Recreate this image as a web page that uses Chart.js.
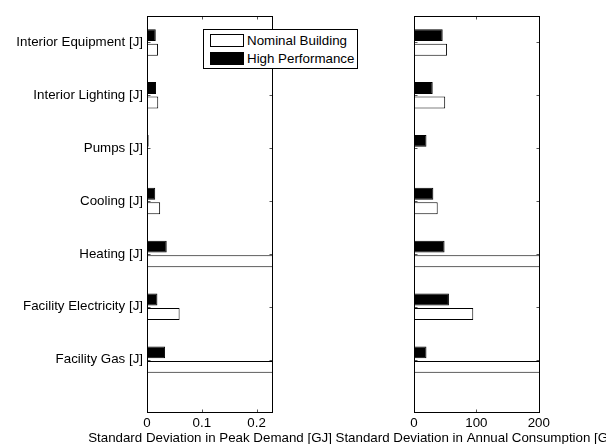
<!DOCTYPE html>
<html>
<head>
<meta charset="utf-8">
<script src="https://cdn.jsdelivr.net/npm/chart.js@4"></script>
<style>
  html, body { margin: 0; padding: 0; background: #fff; overflow: hidden; width: 606px; height: 444px; }
  canvas { position: absolute; left: 0; top: 0; }
  #legend { position: absolute; left: 203px; top: 29px; width: 155px; height: 40px; box-sizing: border-box;
            border: 1px solid #000; background: #fff; font: 13.33px "Liberation Sans", Arial, sans-serif; color: #000; }
  .item { position: absolute; left: 6px; height: 13px; line-height: 13px; }
  .swatch { position: absolute; left: 0; top: 0; width: 34px; height: 13px; box-sizing: border-box; border: 1px solid #000; }
  .label { position: absolute; left: 37px; top: 0; white-space: nowrap; }
</style>
</head>
<body>
<canvas id="peak" width="606" height="445"></canvas>
<canvas id="annual" width="720" height="445"></canvas>
<div id="legend"></div>
<script>
const categories = ['Interior Equipment [J]', 'Interior Lighting [J]', 'Pumps [J]', 'Cooling [J]',
                    'Heating [J]', 'Facility Electricity [J]', 'Facility Gas [J]'];
const seriesNames = ['Nominal Building', 'High Performance'];
const seriesColors = ['#fff', '#000'];

// standard deviation in peak demand [GJ]
const nominalPeak = [0.020, 0.0205, 0.002, 0.024, 0.5, 0.0595, 0.4];
const highPerfPeak = [0.016, 0.0165, 0.003, 0.015, 0.036, 0.019, 0.033];
// standard deviation in annual consumption [GJ]
const nominalAnnual = [53, 50, 1.5, 38, 400, 95, 300];
const highPerfAnnual = [46, 30, 20, 31, 49, 56, 20];

const peakTicks = [0, 0.1, 0.2];
const annualTicks = [0, 100, 200];

const FONT = '"Liberation Sans", Arial, sans-serif';
Chart.defaults.font.family = FONT;
Chart.defaults.font.size = 13.33;
Chart.defaults.color = '#000';

// matlab style box with inward ticks on all four sides, plus the x label
const frame = {
    id: 'frame',
    afterDatasetsDraw(chart, args, opts) {
        const { ctx, chartArea: a, scales: { x, y } } = chart;
        const L = Math.round(a.left) + 0.5, R = Math.round(a.right) - 0.5;
        const T = Math.round(a.top) + 0.5, B = Math.round(a.bottom) - 0.5;
        ctx.save();
        ctx.lineWidth = 1;
        ctx.strokeStyle = '#555';
        ctx.beginPath();
        x.ticks.forEach(t => {
            const p = Math.round(x.getPixelForValue(t.value)) + 0.5;
            ctx.moveTo(p, T); ctx.lineTo(p, T + 3);
            ctx.moveTo(p, B); ctx.lineTo(p, B - 3);
        });
        y.ticks.forEach(t => {
            const p = Math.round(y.getPixelForValue(t.value)) + 0.5;
            ctx.moveTo(L, p); ctx.lineTo(L + 3, p);
            ctx.moveTo(R, p); ctx.lineTo(R - 3, p);
        });
        ctx.stroke();
        ctx.strokeStyle = '#000';
        ctx.strokeRect(L, T, R - L, B - T);

        ctx.fillStyle = '#000';
        ctx.font = '13.33px ' + FONT;
        ctx.textAlign = 'center';
        ctx.textBaseline = 'middle';
        ctx.fillText(opts.title, (a.left + a.right) / 2, 438.5);
        ctx.restore();
    }
};

function toPoints(values) {
    return values.map((v, i) => ({ x: v, y: categories.length - i }));
}

function makeChart(id, nominal, highPerf, xMax, xTicks, xTitle, showLabels, leftWidth, rightPad) {
    const bar = { borderColor: '#000', borderWidth: 1, categoryPercentage: 0.55, barPercentage: 0.82, clip: 0 };
    return new Chart(document.getElementById(id), {
        type: 'bar',
        data: {
            datasets: [
                Object.assign({ label: seriesNames[1], data: toPoints(highPerf), backgroundColor: seriesColors[1] }, bar),
                Object.assign({ label: seriesNames[0], data: toPoints(nominal), backgroundColor: seriesColors[0] }, bar)
            ]
        },
        options: {
            indexAxis: 'y',
            responsive: false,
            animation: false,
            layout: { padding: { top: 16, right: rightPad, left: 0, bottom: 0 } },
            plugins: { legend: { display: false }, tooltip: { enabled: false }, frame: { title: xTitle } },
            scales: {
                x: {
                    type: 'linear',
                    min: 0,
                    max: xMax,
                    afterBuildTicks: s => { s.ticks = xTicks.map(v => ({ value: v })); },
                    afterFit: s => { s.height = 32.5; },
                    grid: { display: false, drawTicks: false },
                    border: { display: false },
                    ticks: { padding: 3, maxRotation: 0 }
                },
                y: {
                    type: 'linear',
                    offset: false,
                    min: 0,
                    max: categories.length + 0.5,
                    afterBuildTicks: s => { s.ticks = categories.map((c, i) => ({ value: categories.length - i })); },
                    afterFit: s => { s.width = leftWidth; },
                    grid: { display: false, offset: false, drawTicks: false },
                    border: { display: false },
                    ticks: { display: showLabels, padding: 4, callback: v => categories[categories.length - v] }
                }
            }
        },
        plugins: [frame]
    });
}

makeChart('peak', nominalPeak, highPerfPeak, 0.23, peakTicks,
    'Standard Deviation in Peak Demand [GJ]', true, 147, 606 - 273);
makeChart('annual', nominalAnnual, highPerfAnnual, 202, annualTicks,
    'Standard Deviation in Annual Consumption [GJ]', false, 414, 720 - 540);

// legend box drawn over the left axes, as in the original figure
const legend = document.getElementById('legend');
seriesNames.forEach((name, i) => {
    legend.insertAdjacentHTML('beforeend',
        `<div class="item" style="top:${4 + i * 17.7}px"><span class="swatch" style="background:${seriesColors[i]}"></span><span class="label">${name}</span></div>`);
});
</script>
</body>
</html>
